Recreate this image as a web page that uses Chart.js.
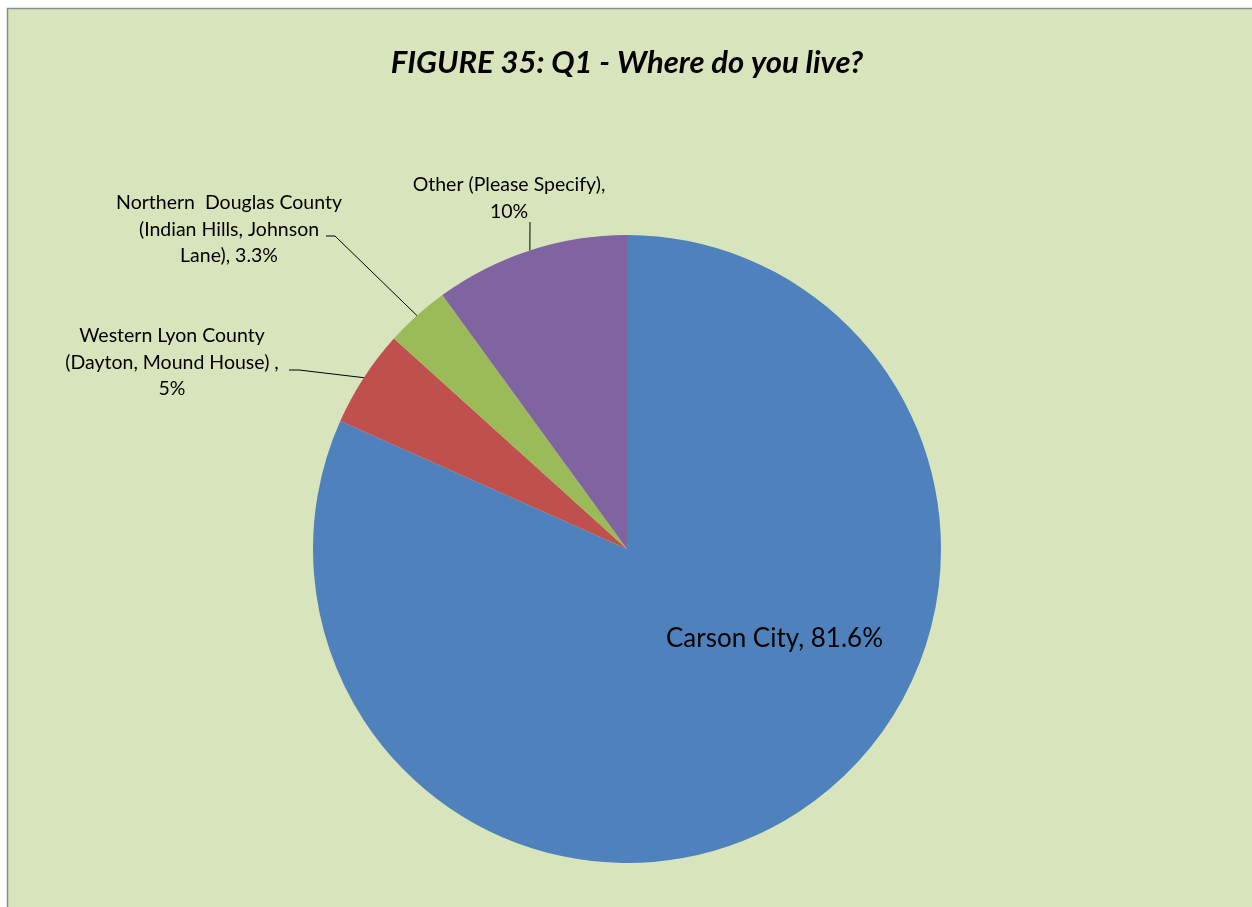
<!DOCTYPE html>
<html>
<head>
<meta charset="utf-8">
<script src="https://cdn.jsdelivr.net/npm/chart.js@4"></script>
<style>
    html, body { margin: 0; padding: 0; background: #ffffff; }
    canvas { display: block; }
</style>
</head>
<body>
<canvas id="pieChart" width="1252" height="907" style="width:1252px;height:907px"></canvas>
<script>
const categories = ["Carson City", "Western Lyon County (Dayton, Mound House)", "Northern Douglas County (Indian Hills, Johnson Lane)", "Other (Please Specify)"];
const values = [81.6, 5, 3.3, 10];
const valueLabels = ["81.6%", "5%", "3.3%", "10%"];
const labelLines =
[
    ["Carson City, 81.6%"],
    ["Western Lyon County", "(Dayton, Mound House) ,", "5%"],
    ["Northern  Douglas County", "(Indian Hills, Johnson", "Lane), 3.3%"],
    ["Other (Please Specify),", "10%"]
];
const sliceColors = ["#4F81BD", "#C0504D", "#9BBB59", "#8064A2"];
const titleText = "FIGURE 35: Q1 - Where do you live?";

// label placement relative to pie centre
const labelPlace =
[
    { dx: 39, dy: 90, size: 26, lead: null },
    { dx: -455, dy: -213, size: 19.5, lead: { x: -338, y: -179, bend: -328 } },
    { dx: -398, dy: -346, size: 19.5, lead: { x: -301, y: -313, bend: -292 } },
    { dx: -118, dy: -364, size: 19.5, lead: { x: -97, y: -327, bend: null } }
];

const frame =
{
    id: "frame",
    beforeDraw(chart)
    {
        const ctx = chart.ctx;
        ctx.save();
        ctx.fillStyle = "#ffffff";
        ctx.fillRect(0, 0, chart.width, chart.height);
        ctx.fillStyle = "#D8E4BC";
        ctx.fillRect(7, 8, chart.width, chart.height);
        ctx.strokeStyle = "#8C8F88";
        ctx.lineWidth = 1.5;
        ctx.beginPath();
        ctx.moveTo(7.5, chart.height);
        ctx.lineTo(7.5, 8.5);
        ctx.lineTo(chart.width, 8.5);
        ctx.stroke();
        ctx.fillStyle = "#000000";
        ctx.font = "italic bold 31px Lato";
        ctx.textAlign = "center";
        ctx.textBaseline = "middle";
        ctx.fillText(titleText, 627, 63);
        ctx.restore();
    },
    afterDraw(chart)
    {
        const ctx = chart.ctx;
        const arcs = chart.getDatasetMeta(0).data;
        ctx.save();
        arcs.forEach((arc, i) =>
        {
            const p = labelPlace[i];
            const cx = arc.x, cy = arc.y;
            ctx.fillStyle = "#000000";
            ctx.font = p.size + "px Lato";
            ctx.textAlign = i === 0 ? "left" : "center";
            ctx.textBaseline = "middle";
            const lh = i === 0 ? 30 : 26.5;
            labelLines[i].forEach((line, k) =>
            {
                ctx.fillText(line, cx + p.dx, cy + p.dy + k * lh);
            });
            if (p.lead)
            {
                const mid = (arc.startAngle + arc.endAngle) / 2;
                const ex = cx + Math.cos(mid) * arc.outerRadius;
                const ey = cy + Math.sin(mid) * arc.outerRadius;
                ctx.strokeStyle = "#000000";
                ctx.lineWidth = 1;
                ctx.beginPath();
                ctx.moveTo(cx + p.lead.x, cy + p.lead.y);
                if (p.lead.bend !== null)
                {
                    ctx.lineTo(cx + p.lead.bend, cy + p.lead.y);
                }
                ctx.lineTo(ex, ey);
                ctx.stroke();
            }
        });
        ctx.restore();
    }
};

new Chart(document.getElementById("pieChart"),
{
    type: "pie",
    data:
    {
        labels: categories,
        datasets:
        [
            {
                data: values,
                backgroundColor: sliceColors,
                borderWidth: 0
            }
        ]
    },
    options:
    {
        responsive: false,
        animation: false,
        layout:
        {
            padding: { left: 313, right: 311, top: 235, bottom: 44 }
        },
        plugins:
        {
            legend: { display: false },
            tooltip: { enabled: false },
            title: { display: false }
        }
    },
    plugins: [frame]
});
</script>
</body>
</html>
